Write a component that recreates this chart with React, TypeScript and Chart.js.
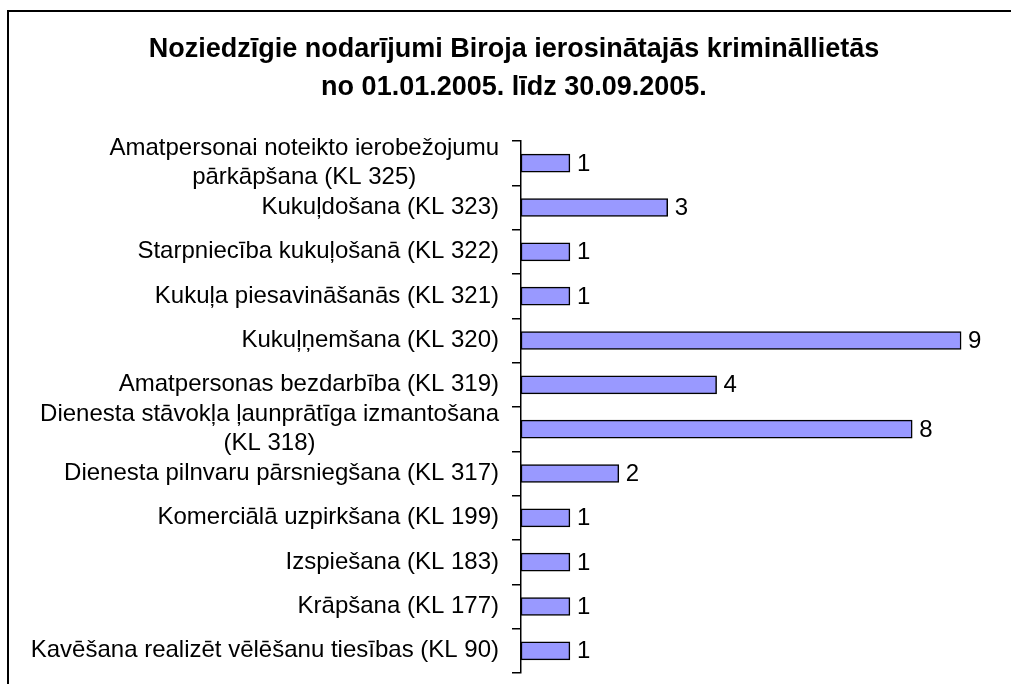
import React, { useEffect, useRef } from "react";
import { Chart, registerables } from "chart.js";

Chart.register(...registerables);

const titleLines = [
  "Noziedzīgie nodarījumi Biroja ierosinātajās krimināllietās",
  "no 01.01.2005. līdz 30.09.2005.",
];

const categories: string[][] = [
  ["Amatpersonai noteikto ierobežojumu", "pārkāpšana (KL 325)"],
  ["Kukuļdošana (KL 323)"],
  ["Starpniecība kukuļošanā (KL 322)"],
  ["Kukuļa piesavināšanās (KL 321)"],
  ["Kukuļņemšana (KL 320)"],
  ["Amatpersonas bezdarbība (KL 319)"],
  ["Dienesta stāvokļa ļaunprātīga izmantošana", "(KL 318)"],
  ["Dienesta pilnvaru pārsniegšana (KL 317)"],
  ["Komerciālā uzpirkšana (KL 199)"],
  ["Izspiešana (KL 183)"],
  ["Krāpšana (KL 177)"],
  ["Kavēšana realizēt vēlēšanu tiesības (KL 90)"],
];

const values = [1, 3, 1, 1, 9, 4, 8, 2, 1, 1, 1, 1];

const FONT = "'Liberation Sans', Arial, sans-serif";

const framePlugin = {
  id: "frame",
  beforeDraw(chart: any) {
    const ctx = chart.ctx;
    ctx.save();
    ctx.fillStyle = "#fff";
    ctx.fillRect(0, 0, chart.width, chart.height);
    ctx.strokeStyle = "#000";
    ctx.lineWidth = 2;
    ctx.beginPath();
    ctx.moveTo(8, chart.height + 2);
    ctx.lineTo(8, 11);
    ctx.lineTo(chart.width + 2, 11);
    ctx.stroke();
    // title
    ctx.fillStyle = "#000";
    ctx.font = `bold 27px ${FONT}`;
    ctx.textAlign = "center";
    ctx.textBaseline = "alphabetic";
    ctx.fillText(titleLines[0], 514, 57);
    ctx.fillText(titleLines[1], 514, 95);
    ctx.restore();
  },
};

const labelsPlugin = {
  id: "catLabels",
  afterDraw(chart: any) {
    const ctx = chart.ctx;
    const yScale = chart.scales.y;
    const xScale = chart.scales.x;
    ctx.save();
    ctx.fillStyle = "#000";
    ctx.font = `24px ${FONT}`;
    ctx.textBaseline = "middle";
    const rightX = 499;
    const lh = 29;
    categories.forEach((lines, i) => {
      const cy = yScale.getPixelForValue(i);
      const widths = lines.map((l) => ctx.measureText(l).width);
      const maxW = Math.max(...widths);
      const center = rightX - maxW / 2;
      lines.forEach((l, j) => {
        const y = cy + (j - (lines.length - 1) / 2) * lh;
        ctx.textAlign = "center";
        ctx.fillText(l, center, y);
      });
    });
    // value labels
    ctx.textAlign = "left";
    values.forEach((v, i) => {
      const x = xScale.getPixelForValue(v);
      const y = yScale.getPixelForValue(i);
      ctx.fillText(String(v), x + 7, y + 1);
    });
    ctx.restore();
  },
};

export default function App() {
  const ref = useRef<HTMLCanvasElement>(null);
  useEffect(() => {
    if (!ref.current) return;
    const chart = new Chart(ref.current, {
      type: "bar",
      data: {
        labels: categories.map((c) => c.join(" ")),
        datasets: [
          {
            data: values,
            backgroundColor: "#9999FF",
            borderColor: "#000",
            borderWidth: 1.5,
            borderSkipped: false,
            barThickness: 18,
          },
        ],
      },
      options: {
        indexAxis: "y",
        animation: false,
        responsive: false,
        devicePixelRatio: 1,
        layout: { padding: { top: 141, right: 1, bottom: 11, left: 0 } },
        plugins: {
          legend: { display: false },
          title: { display: false },
          tooltip: { enabled: false },
        },
        scales: {
          x: {
            display: false,
            min: 0,
            max: 10,
          },
          y: {
            offset: true,
            afterFit(scale: any) {
              scale.width = 521;
            },
            ticks: { display: false },
            grid: {
              offset: true,
              drawOnChartArea: false,
              drawTicks: true,
              tickLength: 9,
              color: "#000",
              lineWidth: 1.5,
            },
            border: { display: true, color: "#000", width: 1.5 },
          },
        },
      },
      plugins: [framePlugin, labelsPlugin],
    });
    return () => chart.destroy();
  }, []);
  return (
    <div style={{ position: "absolute", left: 0, top: 0 }}>
      <canvas ref={ref} width={1011} height={684} style={{ display: "block" }} />
    </div>
  );
}
